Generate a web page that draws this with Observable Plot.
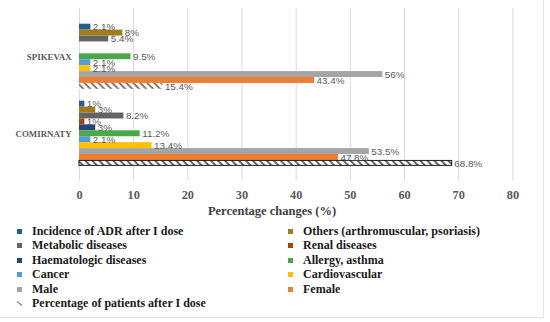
<!DOCTYPE html>
<html><head><meta charset="utf-8">
<script src="https://cdn.jsdelivr.net/npm/d3@7"></script>
<script src="https://cdn.jsdelivr.net/npm/@observablehq/plot@0.6"></script>
<style>
body{margin:0;background:#fff;}
#frame{position:relative;width:544px;height:318px;border-right:1px solid #e4e4e4;border-bottom:1px solid #e4e4e4;box-sizing:border-box;overflow:hidden;background:#fff}
#chart{position:absolute;left:0;top:0}
#xtitle{position:absolute;left:0;width:544px;top:204px;text-align:center;font:bold 12.5px "Liberation Serif",serif;color:#404040}
#legend{position:absolute;left:17px;top:224px;display:grid;grid-template-columns:271px 250px;grid-auto-rows:14.5px;font:bold 12px "Liberation Serif",serif;color:#1a1a1a}
.item{display:flex;align-items:center;white-space:nowrap}
.sw{width:5px;height:5px;margin-right:10px;flex:none}
</style>
</head><body>
<div id="frame">
  <div id="chart"></div>
  <div id="xtitle">Percentage changes (%)</div>
  <div id="legend"></div>
</div>
<script>
const vaccines = ["SPIKEVAX", "COMIRNATY"];
const series = [
  "Incidence of ADR after I dose",
  "Others (arthromuscular, psoriasis)",
  "Metabolic diseases",
  "Renal diseases",
  "Haematologic diseases",
  "Allergy,  asthma",
  "Cancer",
  "Cardiovascular",
  "Male",
  "Female",
  "Percentage of patients after I dose"
];
const spikevaxValues = [2.1, 8, 5.4, 0, 0, 9.5, 2.1, 2.1, 56, 43.4, 15.4];
const comirnatyValues = [1, 3, 8.2, 1, 3, 11.2, 2.1, 13.4, 53.5, 47.8, 68.8];
const seriesColors = ["#23608f", "#a07c1a", "#646464", "#9e480e", "#264478", "#4aa84a", "#5b9bd5", "#ffc000", "#a5a5a5", "#ed7d31", "#7d7d7d"];
const xTicks = [0, 10, 20, 30, 40, 50, 60, 70, 80];

const hatchSeries = series[series.length - 1];
const key = (v, s) => v + "|" + s;
const rows = [];
[spikevaxValues, comirnatyValues].forEach((vals, i) => {
  series.forEach((s, j) => rows.push({vaccine: vaccines[i], series: s, value: vals[j], key: key(vaccines[i], s)}));
});
const yDomain = [
  ...series.map(s => key(vaccines[0], s)),
  "gap1", "gap2",
  ...series.map(s => key(vaccines[1], s))
];
const midSeries = series[5];
const yTicks = vaccines.map(v => key(v, midSeries));

const solid = rows.filter(d => d.series !== hatchSeries && d.value > 0);
const hatchS = rows.filter(d => d.series === hatchSeries && d.vaccine === vaccines[0]);
const hatchC = rows.filter(d => d.series === hatchSeries && d.vaccine === vaccines[1]);
const labeled = rows.filter(d => d.value > 0);

const plot = Plot.plot({
  width: 550,
  height: 205,
  marginLeft: 80,
  marginRight: 31,
  marginTop: 8,
  marginBottom: 22,
  style: {background: "transparent", overflow: "visible"},
  x: {domain: [0, 80]},
  y: {domain: yDomain, paddingInner: 0, paddingOuter: 0.9},
  color: {domain: series, range: seriesColors},
  marks: [
    Plot.gridX(xTicks, {stroke: "#d9d9d9", strokeOpacity: 1, strokeWidth: 1}),
    Plot.barX(solid, {x: "value", y: "key", fill: "series"}),
    Plot.barX(hatchS, {x: "value", y: "key", fill: "url(#hatchS)"}),
    Plot.barX(hatchC, {x: "value", y: "key", fill: "url(#hatchC)", stroke: "#1a1a1a", strokeWidth: 1, insetTop: 0.5, insetBottom: 0.5}),
    Plot.text(labeled, {x: "value", y: "key", text: d => d.value + "%", textAnchor: "start", dx: 2,
      fill: "#595959", fontSize: 10, fontFamily: "'Liberation Sans Narrow','Liberation Sans',sans-serif"}),
    Plot.axisX(xTicks, {tickSize: 0, tickPadding: 9, label: null, fontSize: 12.5, fontWeight: "bold",
      fontFamily: "'Liberation Serif',serif", color: "#595959", tickFormat: d => String(d)}),
    Plot.axisY(yTicks, {tickSize: 0, tickPadding: 8, label: null, fontSize: 9, fontWeight: "bold",
      fontFamily: "'Liberation Serif',serif", color: "#595959", tickFormat: k => k.split("|")[0]})
  ]
});

// hatch patterns
const ns = "http://www.w3.org/2000/svg";
const defs = document.createElementNS(ns, "defs");
function addHatch(id, color) {
  const p = document.createElementNS(ns, "pattern");
  p.setAttribute("id", id);
  p.setAttribute("patternUnits", "userSpaceOnUse");
  p.setAttribute("width", "5");
  p.setAttribute("height", "5");
  p.setAttribute("patternTransform", "rotate(-45)");
  const r = document.createElementNS(ns, "rect");
  r.setAttribute("width", "5"); r.setAttribute("height", "5"); r.setAttribute("fill", "#fff");
  const l = document.createElementNS(ns, "rect");
  l.setAttribute("x", "0"); l.setAttribute("y", "0"); l.setAttribute("width", "2"); l.setAttribute("height", "5");
  l.setAttribute("fill", color);
  p.appendChild(r); p.appendChild(l);
  defs.appendChild(p);
}
addHatch("hatchS", "#8a7c72");
addHatch("hatchC", "#666666");
plot.insertBefore(defs, plot.firstChild);
document.getElementById("chart").appendChild(plot);

// legend (row-major, two columns)
const legend = document.getElementById("legend");
series.forEach((s, i) => {
  const item = document.createElement("div");
  item.className = "item";
  let sw;
  if (s === hatchSeries) {
    sw = document.createElementNS(ns, "svg");
    sw.setAttribute("width", "5"); sw.setAttribute("height", "5");
    sw.setAttribute("class", "sw");
    sw.innerHTML = '<line x1="0" y1="0.5" x2="5" y2="4.5" stroke="#7d7d7d" stroke-width="1.2"/>';
  } else {
    sw = document.createElement("span");
    sw.className = "sw";
    sw.style.background = seriesColors[i];
  }
  const t = document.createElement("span");
  t.textContent = s;
  item.appendChild(sw); item.appendChild(t);
  legend.appendChild(item);
});
</script>
</body></html>
